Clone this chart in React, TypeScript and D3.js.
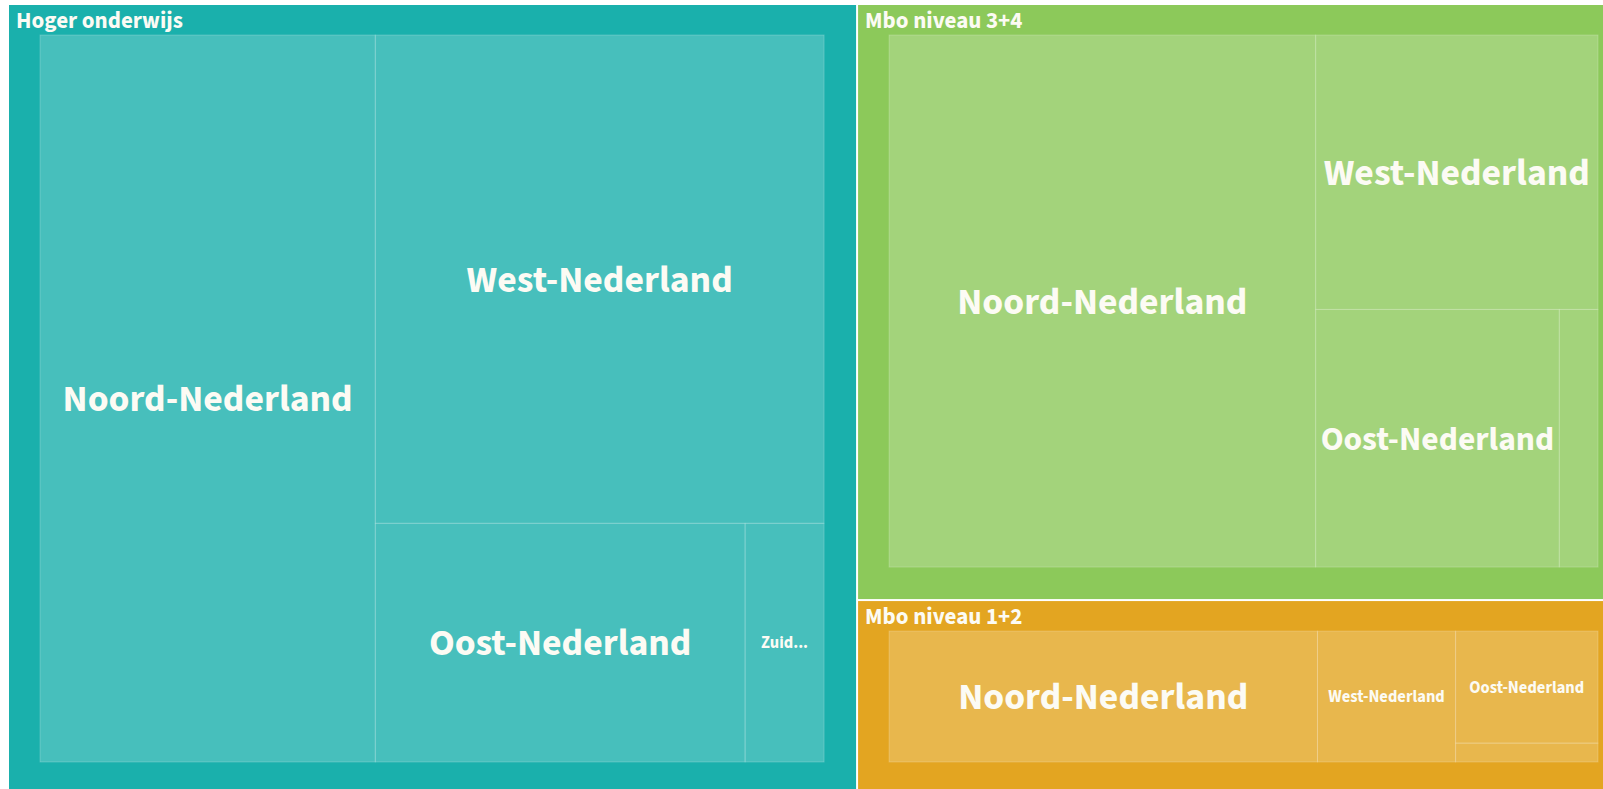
import React, { useMemo } from "react";
import * as d3 from "d3";

// studenten (x 1000) per onderwijsniveau en regio
const levels = ["Hoger onderwijs", "Mbo niveau 3+4", "Mbo niveau 1+2"];
const regions = ["Noord-Nederland", "West-Nederland", "Oost-Nederland", "Zuid-Nederland"];
const hogerOnderwijs = [22.37, 20.11, 8.1, 1.73];
const mboNiveau34 = [21.62, 7.38, 5.98, 0.95];
const mboNiveau12 = [7.1, 2.29, 2.02, 0.34];
const levelColors = ["#1ab0ac", "#8cc95a", "#e3a521"];

const WIDTH = 1603;
const HEIGHT = 789;
const FONT = '"Source Sans Pro", "Source Sans 3", Lato, sans-serif';
const TEXT_COLOR = "#fcfbf4";
const LABEL_MAX = 37.7;
const LABEL_MIN = 16.5;
const LABEL_SMALL = 20; // below this, labels drop to the minimum size
const LABEL_PAD = 5;

interface Datum {
  name: string;
  value?: number;
  children?: Datum[];
}
type RectNode = d3.HierarchyRectangularNode<Datum>;

// split off the first (largest) node, then keep going on the rest;
// near-square boxes alternate direction, long boxes follow their long side
function splitTile(nodes: RectNode[], x0: number, y0: number, x1: number, y1: number, prev?: boolean) {
  if (!nodes.length) return;
  if (nodes.length === 1) {
    Object.assign(nodes[0], { x0, y0, x1, y1 });
    return;
  }
  const total = d3.sum(nodes, (d) => d.value ?? 0);
  const [first, ...rest] = nodes;
  const t = total ? (first.value ?? 0) / total : 0;
  const aspect = (x1 - x0) / (y1 - y0);
  const horizontal =
    aspect > 1.5 ? true : aspect < 1 / 1.5 ? false : prev === undefined ? true : !prev;
  if (horizontal) {
    const xm = x0 + (x1 - x0) * t;
    Object.assign(first, { x0, y0, x1: xm, y1 });
    splitTile(rest, xm, y0, x1, y1, true);
  } else {
    const ym = y0 + (y1 - y0) * t;
    Object.assign(first, { x0, y0, x1, y1: ym });
    splitTile(rest, x0, ym, x1, y1, false);
  }
}

const tile = (parent: RectNode, x0: number, y0: number, x1: number, y1: number) =>
  splitTile((parent.children ?? []) as RectNode[], x0, y0, x1, y1);

const ctx = document.createElement("canvas").getContext("2d")!;
function measure(text: string, size: number) {
  ctx.font = `bold ${size}px ${FONT}`;
  return ctx.measureText(text).width;
}

function fitLabel(name: string, w: number, h: number) {
  const room = w - 2 * LABEL_PAD;
  let size = Math.min(LABEL_MAX, (room / measure(name, 100)) * 100);
  if (size >= LABEL_SMALL) return h >= size + 8 ? { text: name, size } : null;
  size = LABEL_MIN;
  if (measure(name, size) <= room) return h >= size + 8 ? { text: name, size } : null;
  const short = name.split("-")[0] + "...";
  if (measure(short, size) <= room && h >= size + 8) return { text: short, size };
  return null;
}

const App: React.FC = () => {
  const root = useMemo(() => {
    const series = [hogerOnderwijs, mboNiveau34, mboNiveau12];
    const data: Datum = {
      name: "root",
      children: levels.map((level, i) => ({
        name: level,
        children: regions.map((region, j) => ({ name: region, value: series[i][j] })),
      })),
    };
    const hierarchy = d3
      .hierarchy<Datum>(data)
      .sum((d) => d.value ?? 0)
      .sort((a, b) => (b.value ?? 0) - (a.value ?? 0));

    return d3
      .treemap<Datum>()
      .size([1621, 789])
      .tile(tile as any)
      .paddingInner((d) => (d.depth === 0 ? 2 : 0))
      .paddingTop((d) => (d.depth === 1 ? 30 : 0))
      .paddingLeft((d) => (d.depth === 1 ? 31 : 0))
      .paddingRight((d) => (d.depth === 1 ? 32 : 0))
      .paddingBottom((d) => (d.depth === 1 ? 32 : 0))(hierarchy);
  }, []);

  const groups = root.children ?? [];

  return (
    <svg
      width={WIDTH}
      height={HEIGHT}
      style={{ position: "absolute", left: 0, top: 0, background: "#fff" }}
      fontFamily={FONT}
    >
      <g transform="translate(9,5)">
        {groups.map((g, i) => (
          <g key={g.data.name}>
            <rect x={g.x0} y={g.y0} width={g.x1 - g.x0} height={g.y1 - g.y0} fill={levelColors[i]} />
            {(g.children ?? []).map((c) => {
              const w = c.x1 - c.x0;
              const h = c.y1 - c.y0;
              const label = fitLabel(c.data.name, w, h);
              return (
                <g key={c.data.name}>
                  <rect
                    x={c.x0}
                    y={c.y0}
                    width={w}
                    height={h}
                    fill="#fff"
                    fillOpacity={0.2}
                    stroke="#fff"
                    strokeOpacity={0.2}
                    strokeWidth={1}
                  />
                  {label && (
                    <text
                      x={c.x0 + w / 2}
                      y={c.y0 + h / 2 + label.size * 0.34}
                      textAnchor="middle"
                      fontWeight="bold"
                      fontSize={label.size}
                      fill={TEXT_COLOR}
                    >
                      {label.text}
                    </text>
                  )}
                </g>
              );
            })}
            <text x={g.x0 + 7} y={g.y0 + 23} fontWeight="bold" fontSize={23} fill={TEXT_COLOR}>
              {g.data.name}
            </text>
          </g>
        ))}
      </g>
    </svg>
  );
};

export default App;
